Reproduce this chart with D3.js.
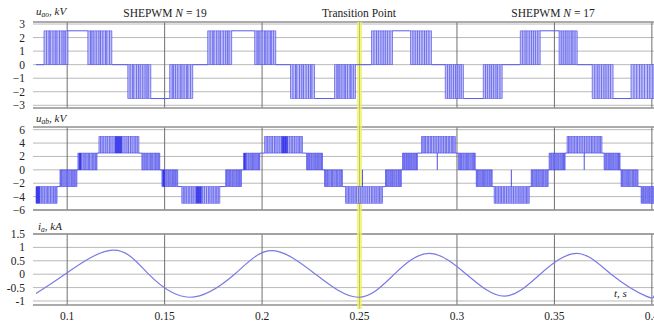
<!DOCTYPE html>
<html>
<head>
<meta charset="utf-8">
<script src="https://cdn.jsdelivr.net/npm/d3@7"></script>
<style>
  body { margin: 0; background: #fff; }
  svg { display: block; }
  text { font-family: "Liberation Serif", "Times New Roman", serif; fill: #222; }
</style>
</head>
<body>
<svg id="chart" width="654" height="326"></svg>
<script>
// ---- data ----
const xTicks = [0.1, 0.15, 0.2, 0.25, 0.3, 0.35, 0.4];
const uaoTicks = [-3, -2, -1, 0, 1, 2, 3];
const uabTicks = [-6, -4, -2, 0, 2, 4, 6];
const iaTicks = [-1, -0.5, 0, 0.5, 1, 1.5];
const transitionTime = 0.25;

// phase voltage u_ao: pulse blocks [start, end, level] (switching between 0 and level)
const uaoBlocks = [
  [0.0881, 0.1004, 2.5], [0.1106, 0.1229, 2.5], [0.1311, 0.1429, -2.5], [0.1526, 0.1644, -2.5],
  [0.1721, 0.1844, 2.5], [0.1962, 0.2070, 2.5], [0.2146, 0.2269, -2.5], [0.2372, 0.2479, -2.5],
  [0.2561, 0.2669, 2.5], [0.2761, 0.2869, 2.5], [0.2940, 0.3033, -2.5], [0.3135, 0.3232, -2.5],
  [0.3325, 0.3427, 2.5], [0.3524, 0.3617, 2.5], [0.3694, 0.3801, -2.5], [0.3893, 0.4020, -2.5]
];
// switching edges inside a block, as fraction of the block width
const edgesN19 = [0, 0.1, 0.21, 0.26, 0.375, 0.47, 0.54, 0.65, 0.75, 0.83, 0.89, 1];
const edgesN17 = [0, 0.12, 0.24, 0.33, 0.45, 0.56, 0.66, 0.77, 0.88, 1];

// line voltage u_ab: pulse blocks [start, end, low, high]
const uabBlocks = [
  [0.0840, 0.0948, -5, -2.5], [0.0963, 0.1050, -2.5, 0], [0.1055, 0.1153, 0, 2.5], [0.1163, 0.1368, 2.5, 5],
  [0.1383, 0.1475, 0, 2.5], [0.1486, 0.1567, -2.5, 0], [0.1588, 0.1783, -5, -2.5], [0.1813, 0.1895, -2.5, 0],
  [0.1905, 0.1988, 0, 2.5], [0.2013, 0.2208, 2.5, 5], [0.2228, 0.2310, 0, 2.5], [0.2320, 0.2413, -2.5, 0],
  [0.2428, 0.2618, -5, -2.5], [0.2633, 0.2715, -2.5, 0], [0.2720, 0.2797, 0, 2.5], [0.2818, 0.2992, 2.5, 5],
  [0.3007, 0.3094, 0, 2.5], [0.3099, 0.3181, -2.5, 0], [0.3191, 0.3371, -5, -2.5], [0.3381, 0.3468, -2.5, 0],
  [0.3473, 0.3555, 0, 2.5], [0.3565, 0.3744, 2.5, 5], [0.3755, 0.3837, 0, 2.5], [0.3842, 0.3929, -2.5, 0],
  [0.3945, 0.4020, -5, -2.5]
];
const uabEdges = [0, 0.06, 0.13, 0.19, 0.27, 0.33, 0.41, 0.48, 0.55, 0.61, 0.69, 0.76, 0.83, 0.9, 0.95, 1];
const uabEdgesWide = [0, 0.04, 0.08, 0.12, 0.17, 0.21, 0.26, 0.3, 0.35, 0.4, 0.45, 0.5, 0.55, 0.6, 0.65, 0.7, 0.74, 0.79, 0.83, 0.88, 0.92, 0.96, 1];
// dense switching regions [start, end, low, high]
const uabDense = [
  [0.0840, 0.0860, -5, -2.5], [0.1060, 0.1071, 0, 2.5], [0.1245, 0.1281, 2.5, 5], [0.1491, 0.1501, -2.5, 0],
  [0.1660, 0.1690, -5, -2.5], [0.1906, 0.1916, 0, 2.5], [0.2100, 0.2131, 2.5, 5]
];
// isolated pulses [time, low, high]
const uabSpikes = [[0.2515, -2.5, 0], [0.2899, 0, 2.5], [0.3279, -2.5, 0], [0.3653, 0, 2.5]];

// phase current i_a
const iaTime = [0.0840, 0.0989, 0.1234, 0.1418, 0.1629, 0.1859, 0.2049, 0.2274, 0.2495, 0.2679,
  0.2858, 0.3048, 0.3243, 0.3427, 0.3617, 0.3791, 0.3970, 0.4011];
const iaValue = [-0.72, 0, 0.9, 0, -0.86, 0, 0.88, 0, -0.86, 0,
  0.78, 0, -0.82, 0, 0.78, 0, -0.82, -0.8];

// ---- layout ----
const svg = d3.select("#chart");
const x = d3.scaleLinear().domain([0.084, 0.4011]).range([36, 654]);
const xL = 33, xR = 654;

const panels = [
  {y: d3.scaleLinear().domain([-3.2, 3.15]).range([108, 22]), ticks: uaoTicks, fmt: d3.format("d")},
  {y: d3.scaleLinear().domain([-6, 6.4]).range([210, 127]), ticks: uabTicks, fmt: d3.format("d")},
  {y: d3.scaleLinear().domain([-1.15, 1.5]).range([305, 234]), ticks: iaTicks, fmt: d => String(d)}
];

const blue = "#2424e8", blueFill = "#b4b4f6", flatBlue = "#5a5af0";

// grid + frame
panels.forEach(p => {
  const [y0, y1] = p.y.range();
  const g = svg.append("g");
  g.selectAll("line.h").data(p.ticks).join("line")
    .attr("x1", xL).attr("x2", xR)
    .attr("y1", d => p.y(d)).attr("y2", d => p.y(d))
    .attr("stroke", "#b9b9b9").attr("stroke-width", 1);
  g.selectAll("line.v").data(xTicks).join("line")
    .attr("x1", d => x(d)).attr("x2", d => x(d))
    .attr("y1", y1).attr("y2", y0)
    .attr("stroke", "#707070").attr("stroke-width", 1);
  [y0, y1].forEach(yy => g.append("line")
    .attr("x1", xL).attr("x2", xR).attr("y1", yy).attr("y2", yy)
    .attr("stroke", "#8f8f8f").attr("stroke-width", 1.6));
  g.selectAll("text").data(p.ticks).join("text")
    .attr("x", 25).attr("y", d => p.y(d) + 4)
    .attr("text-anchor", "end").attr("font-size", 11.5)
    .text(p.fmt);
});

// transition band
svg.append("rect")
  .attr("x", x(transitionTime) - 2.6).attr("width", 5.2)
  .attr("y", 22).attr("height", 287)
  .attr("fill", "#eef066").attr("opacity", 0.75);
svg.append("line")
  .attr("x1", x(transitionTime)).attr("x2", x(transitionTime))
  .attr("y1", 22).attr("y2", 309)
  .attr("stroke", "#b8b84a").attr("stroke-width", 0.6);

function drawBlock(g, yS, t0, t1, lo, hi, edges, mirror) {
  const x0 = x(t0), x1 = Math.min(x(t1), xR);
  g.append("rect").attr("x", x0).attr("width", x1 - x0)
    .attr("y", yS(hi)).attr("height", yS(lo) - yS(hi))
    .attr("fill", blueFill).attr("opacity", 0.85);
  edges.forEach(f => {
    const xe = x(t0 + (mirror ? 1 - f : f) * (t1 - t0));
    if (xe > xR) return;
    g.append("line").attr("x1", xe).attr("x2", xe)
      .attr("y1", yS(hi)).attr("y2", yS(lo))
      .attr("stroke", blue).attr("stroke-width", 0.7).attr("opacity", 0.75);
  });
  [lo, hi].forEach(v => g.append("line").attr("x1", x0).attr("x2", x1)
    .attr("y1", yS(v)).attr("y2", yS(v))
    .attr("stroke", blue).attr("stroke-width", 0.6).attr("opacity", 0.7));
}

// panel 1: u_ao
{
  const yS = panels[0].y, g = svg.append("g");
  const flats = [[0.084, uaoBlocks[0][0], 0]];
  uaoBlocks.forEach((b, i) => {
    const n = uaoBlocks[i + 1];
    if (n) flats.push([b[1], n[0], b[2] === n[2] ? b[2] : 0]);
  });
  g.selectAll("line.flat").data(flats).join("line")
    .attr("x1", d => x(d[0])).attr("x2", d => x(d[1]))
    .attr("y1", d => yS(d[2])).attr("y2", d => yS(d[2]))
    .attr("stroke", flatBlue).attr("stroke-width", 1);
  uaoBlocks.forEach((b, i) => {
    const lo = Math.min(0, b[2]), hi = Math.max(0, b[2]);
    drawBlock(g, yS, b[0], b[1], lo, hi, b[0] < transitionTime ? edgesN19 : edgesN17, i % 2 === 1);
  });
}

// panel 2: u_ab
{
  const yS = panels[1].y, g = svg.append("g");
  const flats = [];
  uabBlocks.forEach((b, i) => {
    const n = uabBlocks[i + 1];
    if (!n || n[0] <= b[1]) return;
    const lvl = b[3] === n[2] ? b[3] : (b[2] === n[3] ? b[2] : 0);
    flats.push([b[1], n[0], lvl]);
  });
  g.selectAll("line.flat").data(flats).join("line")
    .attr("x1", d => x(d[0])).attr("x2", d => x(d[1]))
    .attr("y1", d => yS(d[2])).attr("y2", d => yS(d[2]))
    .attr("stroke", flatBlue).attr("stroke-width", 1);
  uabBlocks.forEach((b, i) => {
    drawBlock(g, yS, b[0], b[1], b[2], b[3], (b[1] - b[0]) > 0.015 ? uabEdgesWide : uabEdges, i % 2 === 1);
  });
  g.selectAll("rect.dense").data(uabDense).join("rect")
    .attr("x", d => x(d[0])).attr("width", d => x(d[1]) - x(d[0]))
    .attr("y", d => yS(d[3])).attr("height", d => yS(d[2]) - yS(d[3]))
    .attr("fill", "#2020e6").attr("opacity", 0.7);
  g.selectAll("line.spike").data(uabSpikes).join("line")
    .attr("x1", d => x(d[0])).attr("x2", d => x(d[0]))
    .attr("y1", d => yS(d[1])).attr("y2", d => yS(d[2]))
    .attr("stroke", blue).attr("stroke-width", 1).attr("opacity", 0.8);
}

// panel 3: i_a
{
  const yS = panels[2].y;
  const line = d3.line().x(d => x(d[0])).y(d => yS(d[1])).curve(d3.curveNatural);
  svg.append("path")
    .attr("d", line(d3.zip(iaTime, iaValue)))
    .attr("fill", "none").attr("stroke", "#7a7ae4").attr("stroke-width", 1.2);
}

// x tick labels (the last one runs past the right edge, as in the original)
svg.selectAll("text.xt").data(xTicks).join("text")
  .attr("class", "xt")
  .attr("x", d => x(d)).attr("y", 320)
  .attr("text-anchor", "middle").attr("font-size", 11.5)
  .text(d => String(d));

// axis labels and titles
function varLabel(xp, yp, main, sub, unit) {
  const t = svg.append("text").attr("x", xp).attr("y", yp).attr("font-size", 11).attr("font-style", "italic");
  t.append("tspan").text(main);
  t.append("tspan").attr("font-size", 7.5).attr("dy", 2).text(sub);
  t.append("tspan").attr("dy", -2).text(", " + unit);
}
varLabel(36, 15, "u", "ao", "kV");
varLabel(36, 122, "u", "ab", "kV");
varLabel(38, 230, "i", "a", "kA");

svg.append("text").attr("x", 614).attr("y", 297).attr("font-size", 11).attr("font-style", "italic").text("t, s");

function title(xp, n) {
  const t = svg.append("text").attr("x", xp).attr("y", 17).attr("text-anchor", "middle").attr("font-size", 11.5);
  t.append("tspan").text("SHEPWM ");
  t.append("tspan").attr("font-style", "italic").text("N");
  t.append("tspan").text(" = " + n);
}
title(165, 19);
title(553, 17);
svg.append("text").attr("x", 359).attr("y", 17).attr("text-anchor", "middle").attr("font-size", 11.5).text("Transition Point");
</script>
</body>
</html>
